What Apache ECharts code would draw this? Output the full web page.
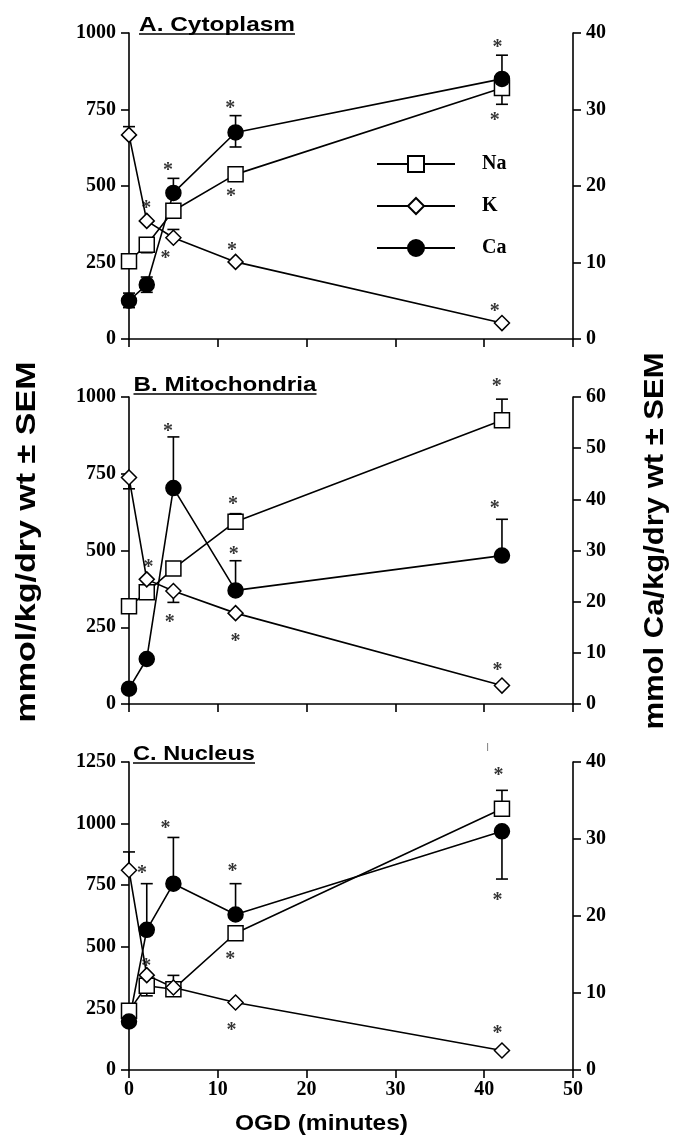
<!DOCTYPE html>
<html>
<head>
<meta charset="utf-8">
<script src="https://cdn.jsdelivr.net/npm/echarts@6/dist/echarts.min.js"></script>
<style>
  html, body { margin: 0; padding: 0; background: #fff; }
  #chart { width: 676px; height: 1137px; }
</style>
</head>
<body>
<div id="chart"></div>
<script>
// time points, minutes of OGD
const minutes = [0, 2, 5, 12, 42];

// A. Cytoplasm (Na, K on left axis, Ca on right axis)
const naCyto = [254, 308, 419, 538, 820];
const kCyto = [667, 386, 331, 252, 52];
const caCyto = [5.0, 7.1, 19.1, 27.0, 34.0];
const naCytoErr = [[2, 282, 325], [42, 767, 820]];
const kCytoErr = [[0, 667, 694], [5, 331, 358]];
const caCytoErr = [[0, 4.1, 6.0], [2, 6.1, 8.1], [5, 19.1, 21.0], [12, 25.1, 29.2], [42, 34.0, 37.1]];
const cytoStars = [[1.95, 443], [4.4, 566], [4.1, 279], [11.4, 770], [11.5, 481], [11.6, 306], [41.5, 969], [41.2, 729], [41.2, 106]];

// B. Mitochondria
const naMito = [318, 364, 441, 594, 924];
const kMito = [738, 406, 368, 296, 60];
const caMito = [3.0, 8.8, 42.2, 22.2, 29.0];
const naMitoErr = [[12, 594, 620], [42, 924, 993]];
const kMitoErr = [[0, 701, 738], [5, 331, 368]];
const caMitoErr = [[5, 42.2, 52.2], [12, 22.2, 28.0], [42, 29.0, 36.1]];
const mitoStars = [[41.4, 1048], [4.4, 904], [11.7, 666], [11.8, 502], [41.2, 653], [2.2, 459], [4.6, 282], [12.0, 219], [41.5, 123]];

// C. Nucleus
const naNuc = [240, 342, 328, 555, 1060];
const kNuc = [811, 385, 335, 274, 79];
const caNuc = [6.3, 18.2, 24.2, 20.2, 31.0];
const naNucErr = [[2, 301, 342], [5, 328, 384], [42, 1060, 1135]];
const kNucErr = [[0, 811, 885]];
const caNucErr = [[2, 18.2, 24.2], [5, 24.2, 30.2], [12, 20.2, 24.2], [42, 24.8, 31.0]];
const nucStars = [[1.45, 817], [4.1, 999], [11.65, 823], [11.4, 469], [11.55, 180], [41.6, 1213], [41.5, 708], [41.5, 167], [1.95, 437]];
const nucStray = [[40.4, 1311]];

const panelTitles = ['A. Cytoplasm', 'B. Mitochondria', 'C. Nucleus'];
const leftMax = [1000, 1000, 1250];
const rightMax = [40, 60, 40];

const BLACK = '#000';
const tickFont = { fontFamily: 'Liberation Serif', fontWeight: 'bold', fontSize: 20, color: BLACK };
const axisStyle = { color: BLACK, width: 1.6 };

function measure(text, font) {
  const ctx = document.createElement('canvas').getContext('2d');
  ctx.font = font;
  return ctx.measureText(text).width;
}

function lineSeries(name, vals, gi, yi, symbol, fill) {
  return {
    type: 'line', name, xAxisIndex: gi, yAxisIndex: yi,
    data: minutes.map((m, i) => [m, vals[i]]),
    symbol, symbolSize: 15, showSymbol: true,
    itemStyle: { color: fill, borderColor: BLACK, borderWidth: 1.5 },
    lineStyle: { color: BLACK, width: 1.6 },
    z: 3
  };
}

function errSeries(data, gi, yi) {
  return {
    type: 'custom', xAxisIndex: gi, yAxisIndex: yi, data, z: 2, silent: true,
    renderItem(params, api) {
      const x = api.value(0);
      const a = api.coord([x, api.value(1)]);
      const b = api.coord([x, api.value(2)]);
      const w = 6;
      const st = { stroke: BLACK, lineWidth: 1.6 };
      return {
        type: 'group',
        children: [
          { type: 'line', shape: { x1: a[0], y1: a[1], x2: b[0], y2: b[1] }, style: st },
          { type: 'line', shape: { x1: a[0] - w, y1: a[1], x2: a[0] + w, y2: a[1] }, style: st },
          { type: 'line', shape: { x1: b[0] - w, y1: b[1], x2: b[0] + w, y2: b[1] }, style: st }
        ]
      };
    }
  };
}

function starSeries(data, gi, yi, mark, size) {
  return {
    type: 'scatter', xAxisIndex: gi, yAxisIndex: yi, data, clip: false, silent: true,
    symbolSize: 1, itemStyle: { color: 'rgba(0,0,0,0)' }, z: 4,
    label: {
      show: true, position: 'inside', formatter: mark,
      fontFamily: 'Liberation Serif', fontWeight: 'bold', fontSize: size, color: BLACK,
      offset: [0, mark === '*' ? 5 : 0]
    }
  };
}

const panels = [
  [naCyto, kCyto, caCyto, naCytoErr, kCytoErr, caCytoErr, cytoStars],
  [naMito, kMito, caMito, naMitoErr, kMitoErr, caMitoErr, mitoStars],
  [naNuc, kNuc, caNuc, naNucErr, kNucErr, caNucErr, nucStars]
];

const gridTops = [33, 397, 762];
const gridHeights = [306, 307, 308];

const grid = gridTops.map((t, i) => ({ left: 129, right: 103, top: t, height: gridHeights[i] }));

const plain = v => String(v);

const xAxis = gridTops.map((t, i) => ({
  gridIndex: i, type: 'value', min: 0, max: 50, interval: 10,
  axisLine: { show: true, onZero: false, lineStyle: axisStyle },
  axisTick: { show: true, length: 8, lineStyle: axisStyle },
  axisLabel: Object.assign({ show: i === 2, margin: 10, formatter: plain }, tickFont),
  splitLine: { show: false }
}));

const yAxis = [];
gridTops.forEach((t, i) => {
  yAxis.push({
    gridIndex: i, type: 'value', position: 'left', min: 0, max: leftMax[i], interval: 250,
    axisLine: { show: true, onZero: false, lineStyle: axisStyle },
    axisTick: { show: true, length: 8, lineStyle: axisStyle },
    axisLabel: Object.assign({ margin: 13, formatter: plain }, tickFont),
    splitLine: { show: false }
  });
  yAxis.push({
    gridIndex: i, type: 'value', position: 'right', min: 0, max: rightMax[i], interval: 10,
    axisLine: { show: true, onZero: false, lineStyle: axisStyle },
    axisTick: { show: true, length: 8, lineStyle: axisStyle },
    axisLabel: Object.assign({ margin: 13, formatter: plain }, tickFont),
    splitLine: { show: false }
  });
});

const series = [];
panels.forEach((p, i) => {
  const [na, k, ca, naErr, kErr, caErr, stars] = p;
  series.push(errSeries(naErr, i, 2 * i));
  series.push(errSeries(kErr, i, 2 * i));
  series.push(errSeries(caErr, i, 2 * i + 1));
  series.push(lineSeries('Na', na, i, 2 * i, 'rect', '#fff'));
  series.push(lineSeries('K', k, i, 2 * i, 'diamond', '#fff'));
  series.push(lineSeries('Ca', ca, i, 2 * i + 1, 'circle', BLACK));
  series.push(starSeries(stars, i, 2 * i, '*', 20));
});
series.push(starSeries(nucStray, 2, 4, '|', 9));

// panel titles, underlined, and shared axis titles
const titleFont = 'bold 21px "Liberation Sans"';
const titleSpec = [
  { x: 139, top: 17, width: 156 },
  { x: 133.5, top: 377, width: 183 },
  { x: 133, top: 746, width: 122 }
];
const graphic = [];
panelTitles.forEach((txt, i) => {
  const s = titleSpec[i];
  const sx = s.width / measure(txt, titleFont);
  graphic.push({
    type: 'text', x: s.x, y: s.top - 2, scaleX: sx,
    style: { text: txt, font: titleFont, fill: BLACK, align: 'left', verticalAlign: 'top' }
  });
  graphic.push({
    type: 'line', shape: { x1: s.x, y1: s.top + 17, x2: s.x + s.width, y2: s.top + 17 },
    style: { stroke: BLACK, lineWidth: 1.6 }
  });
});

function sideTitle(txt, font, cx, cy, len, rot) {
  const sx = len / measure(txt, font);
  return {
    type: 'text', x: cx, y: cy, rotation: rot, scaleX: sx,
    style: { text: txt, font, fill: BLACK, align: 'center', verticalAlign: 'middle' }
  };
}
graphic.push(sideTitle('mmol/kg/dry wt \u00b1 SEM', 'bold 28px "Liberation Sans"', 27, 542, 361, Math.PI / 2));
graphic.push(sideTitle('mmol Ca/kg/dry wt \u00b1 SEM', 'bold 27px "Liberation Sans"', 656, 541, 377, Math.PI / 2));
graphic.push(sideTitle('OGD (minutes)', 'bold 22px "Liberation Sans"', 321.5, 1124, 173, 0));

const chart = echarts.init(document.getElementById('chart'), null, { renderer: 'canvas' });
chart.setOption({
  animation: false,
  backgroundColor: '#fff',
  grid, xAxis, yAxis, series, graphic,
  legend: {
    data: ['Na', 'K', 'Ca'],
    orient: 'vertical', left: 371, top: 149,
    itemWidth: 78, itemHeight: 20, itemGap: 22,
    selectedMode: false,
    textStyle: { fontFamily: 'Liberation Serif', fontWeight: 'bold', fontSize: 20, color: BLACK, padding: [0, 0, 0, 22] }
  }
});
</script>
</body>
</html>
